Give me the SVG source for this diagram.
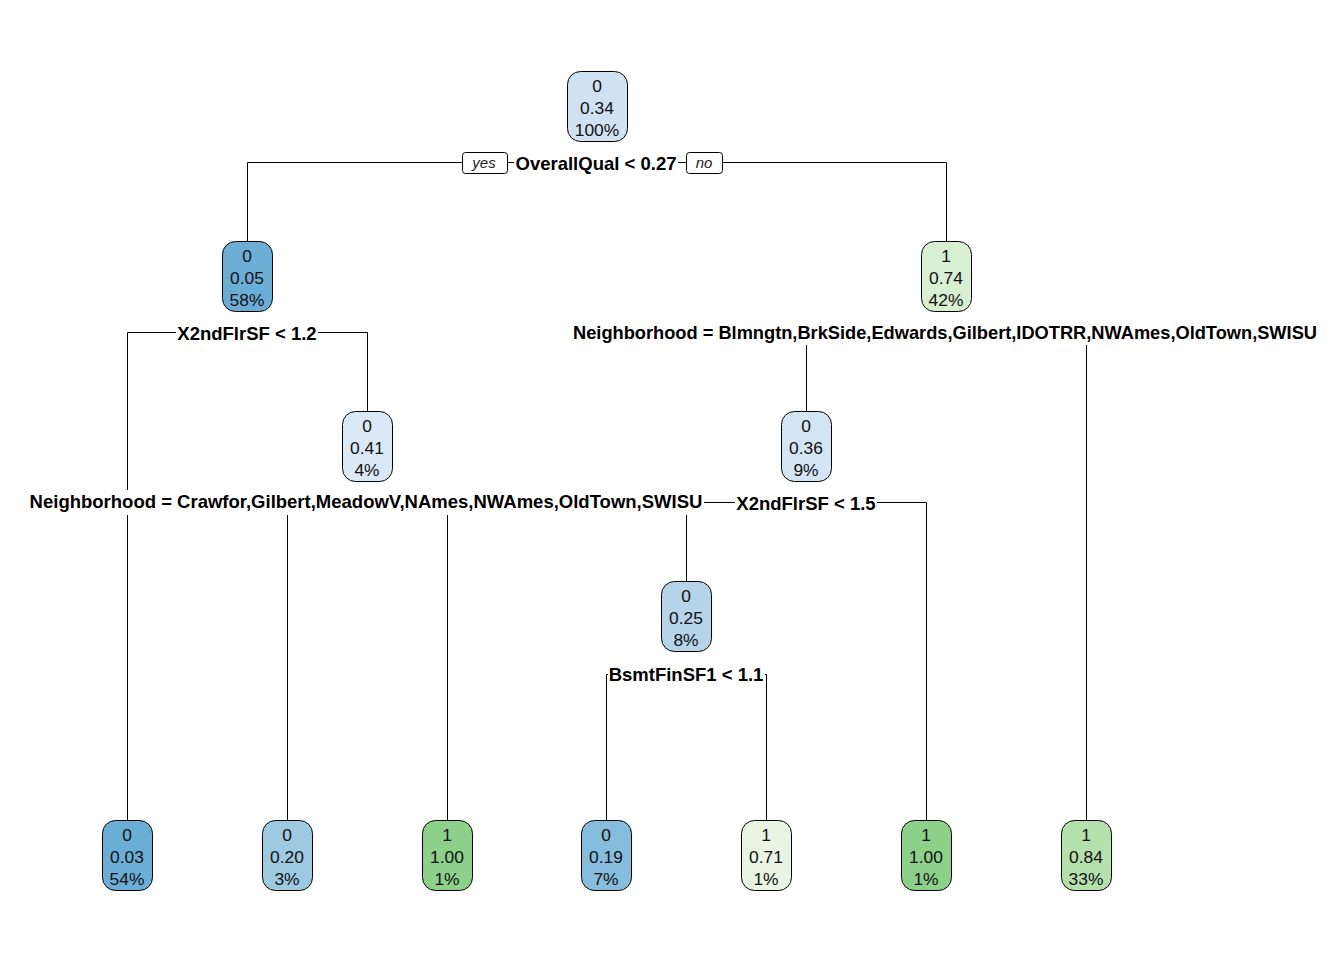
<svg xmlns="http://www.w3.org/2000/svg" width="1344" height="960" viewBox="0 0 1344 960">
  <style>
    .edge { stroke: #000; stroke-width: 1; fill: none; }
    .box { stroke: #000; stroke-width: 1; }
    .ntxt { font-family: "Liberation Sans", Arial, sans-serif; font-size: 17.4px; fill: #111; text-anchor: middle; }
    .split { font-family: "Liberation Sans", Arial, sans-serif; font-size: 18.5px; font-weight: bold; fill: #000; text-anchor: middle; }
    .splitbg { fill: #fff; }
    .yn { font-family: "Liberation Sans", Arial, sans-serif; font-size: 15px; font-style: italic; fill: #222; text-anchor: middle; }
    .ynbox { fill: #fff; stroke: #000; stroke-width: 1; }
  </style>

  <rect width="1344" height="960" fill="#fff"/>

  <!-- branch lines -->
  <g id="connectors">
    <!-- root split -->
    <path class="edge" d="M247.5,241 V162.5 H946.5 V241"/>
    <!-- node 2 split -->
    <path class="edge" d="M127.5,820 V332.5 H367.5 V411"/>
    <!-- node 3 split -->
    <path class="edge" d="M806.5,411 V332.5 H1086.5 V820"/>
    <!-- node 5 split -->
    <path class="edge" d="M287.5,820 V502.5 H447.5 V820"/>
    <!-- node 6 split -->
    <path class="edge" d="M686.5,581 V502.5 H926.5 V820"/>
    <!-- node 12 split -->
    <path class="edge" d="M606.5,820 V674.5 H766.5 V820"/>
  </g>

  <!-- split labels -->
  <g id="split-labels">
    <rect class="splitbg" x="514" y="152" width="164" height="22"/>
    <text class="split" x="596" y="169.5">OverallQual &lt; 0.27</text>
    <rect class="ynbox" x="462.5" y="152.5" width="45" height="21" rx="3"/>
    <text class="yn" x="484" y="168">yes</text>
    <rect class="ynbox" x="686.5" y="152.5" width="36" height="21" rx="3"/>
    <text class="yn" x="704" y="168">no</text>

    <rect class="splitbg" x="176" y="321" width="142" height="22"/>
    <text class="split" x="247" y="339.5">X2ndFlrSF &lt; 1.2</text>

    <rect class="splitbg" x="571" y="321" width="748" height="24"/>
    <text class="split" x="945" y="338.5" textLength="744" lengthAdjust="spacingAndGlyphs">Neighborhood = Blmngtn,BrkSide,Edwards,Gilbert,IDOTRR,NWAmes,OldTown,SWISU</text>

    <rect class="splitbg" x="28" y="490" width="676" height="25"/>
    <text class="split" x="366" y="508">Neighborhood = Crawfor,Gilbert,MeadowV,NAmes,NWAmes,OldTown,SWISU</text>

    <rect class="splitbg" x="735" y="492" width="142" height="22"/>
    <text class="split" x="806" y="509.5">X2ndFlrSF &lt; 1.5</text>

    <rect class="splitbg" x="608" y="664" width="157" height="22"/>
    <text class="split" x="686" y="681">BsmtFinSF1 &lt; 1.1</text>
  </g>

  <!-- root -->
  <g id="node1">
    <rect class="box" x="567.5" y="71.5" width="60" height="70" rx="13" fill="#d0e1f2"/>
    <text class="ntxt" x="597" y="92">0</text>
    <text class="ntxt" x="597" y="114">0.34</text>
    <text class="ntxt" x="597" y="136">100%</text>
  </g>

  <g id="node2">
    <rect class="box" x="222.5" y="241.5" width="50" height="70" rx="13" fill="#6aaed6"/>
    <text class="ntxt" x="247" y="262">0</text>
    <text class="ntxt" x="247" y="284">0.05</text>
    <text class="ntxt" x="247" y="306">58%</text>
  </g>

  <g id="node3">
    <rect class="box" x="921.5" y="241.5" width="50" height="70" rx="13" fill="#d8efd2"/>
    <text class="ntxt" x="946" y="262">1</text>
    <text class="ntxt" x="946" y="284">0.74</text>
    <text class="ntxt" x="946" y="306">42%</text>
  </g>

  <g id="node5">
    <rect class="box" x="342.5" y="411.5" width="50" height="70" rx="13" fill="#dbe9f6"/>
    <text class="ntxt" x="367" y="432">0</text>
    <text class="ntxt" x="367" y="454">0.41</text>
    <text class="ntxt" x="367" y="476">4%</text>
  </g>

  <g id="node6">
    <rect class="box" x="781.5" y="411.5" width="50" height="70" rx="13" fill="#d3e4f3"/>
    <text class="ntxt" x="806" y="432">0</text>
    <text class="ntxt" x="806" y="454">0.36</text>
    <text class="ntxt" x="806" y="476">9%</text>
  </g>

  <g id="node12">
    <rect class="box" x="661.5" y="581.5" width="50" height="70" rx="13" fill="#b5d4e9"/>
    <text class="ntxt" x="686" y="602">0</text>
    <text class="ntxt" x="686" y="624">0.25</text>
    <text class="ntxt" x="686" y="646">8%</text>
  </g>

  <!-- leaves -->
  <g id="leaf4">
    <rect class="box" x="102.5" y="820.5" width="50" height="70" rx="13" fill="#6aaed6"/>
    <text class="ntxt" x="127" y="841">0</text>
    <text class="ntxt" x="127" y="863">0.03</text>
    <text class="ntxt" x="127" y="885">54%</text>
  </g>

  <g id="leaf10">
    <rect class="box" x="262.5" y="820.5" width="50" height="70" rx="13" fill="#9dc9e1"/>
    <text class="ntxt" x="287" y="841">0</text>
    <text class="ntxt" x="287" y="863">0.20</text>
    <text class="ntxt" x="287" y="885">3%</text>
  </g>

  <g id="leaf11">
    <rect class="box" x="422.5" y="820.5" width="50" height="70" rx="13" fill="#8cd089"/>
    <text class="ntxt" x="447" y="841">1</text>
    <text class="ntxt" x="447" y="863">1.00</text>
    <text class="ntxt" x="447" y="885">1%</text>
  </g>

  <g id="leaf24">
    <rect class="box" x="581.5" y="820.5" width="50" height="70" rx="13" fill="#86bcdc"/>
    <text class="ntxt" x="606" y="841">0</text>
    <text class="ntxt" x="606" y="863">0.19</text>
    <text class="ntxt" x="606" y="885">7%</text>
  </g>

  <g id="leaf25">
    <rect class="box" x="741.5" y="820.5" width="50" height="70" rx="13" fill="#e7f5e2"/>
    <text class="ntxt" x="766" y="841">1</text>
    <text class="ntxt" x="766" y="863">0.71</text>
    <text class="ntxt" x="766" y="885">1%</text>
  </g>

  <g id="leaf13">
    <rect class="box" x="901.5" y="820.5" width="50" height="70" rx="13" fill="#8cd089"/>
    <text class="ntxt" x="926" y="841">1</text>
    <text class="ntxt" x="926" y="863">1.00</text>
    <text class="ntxt" x="926" y="885">1%</text>
  </g>

  <g id="leaf7">
    <rect class="box" x="1061.5" y="820.5" width="50" height="70" rx="13" fill="#b4e0ac"/>
    <text class="ntxt" x="1086" y="841">1</text>
    <text class="ntxt" x="1086" y="863">0.84</text>
    <text class="ntxt" x="1086" y="885">33%</text>
  </g>
</svg>
